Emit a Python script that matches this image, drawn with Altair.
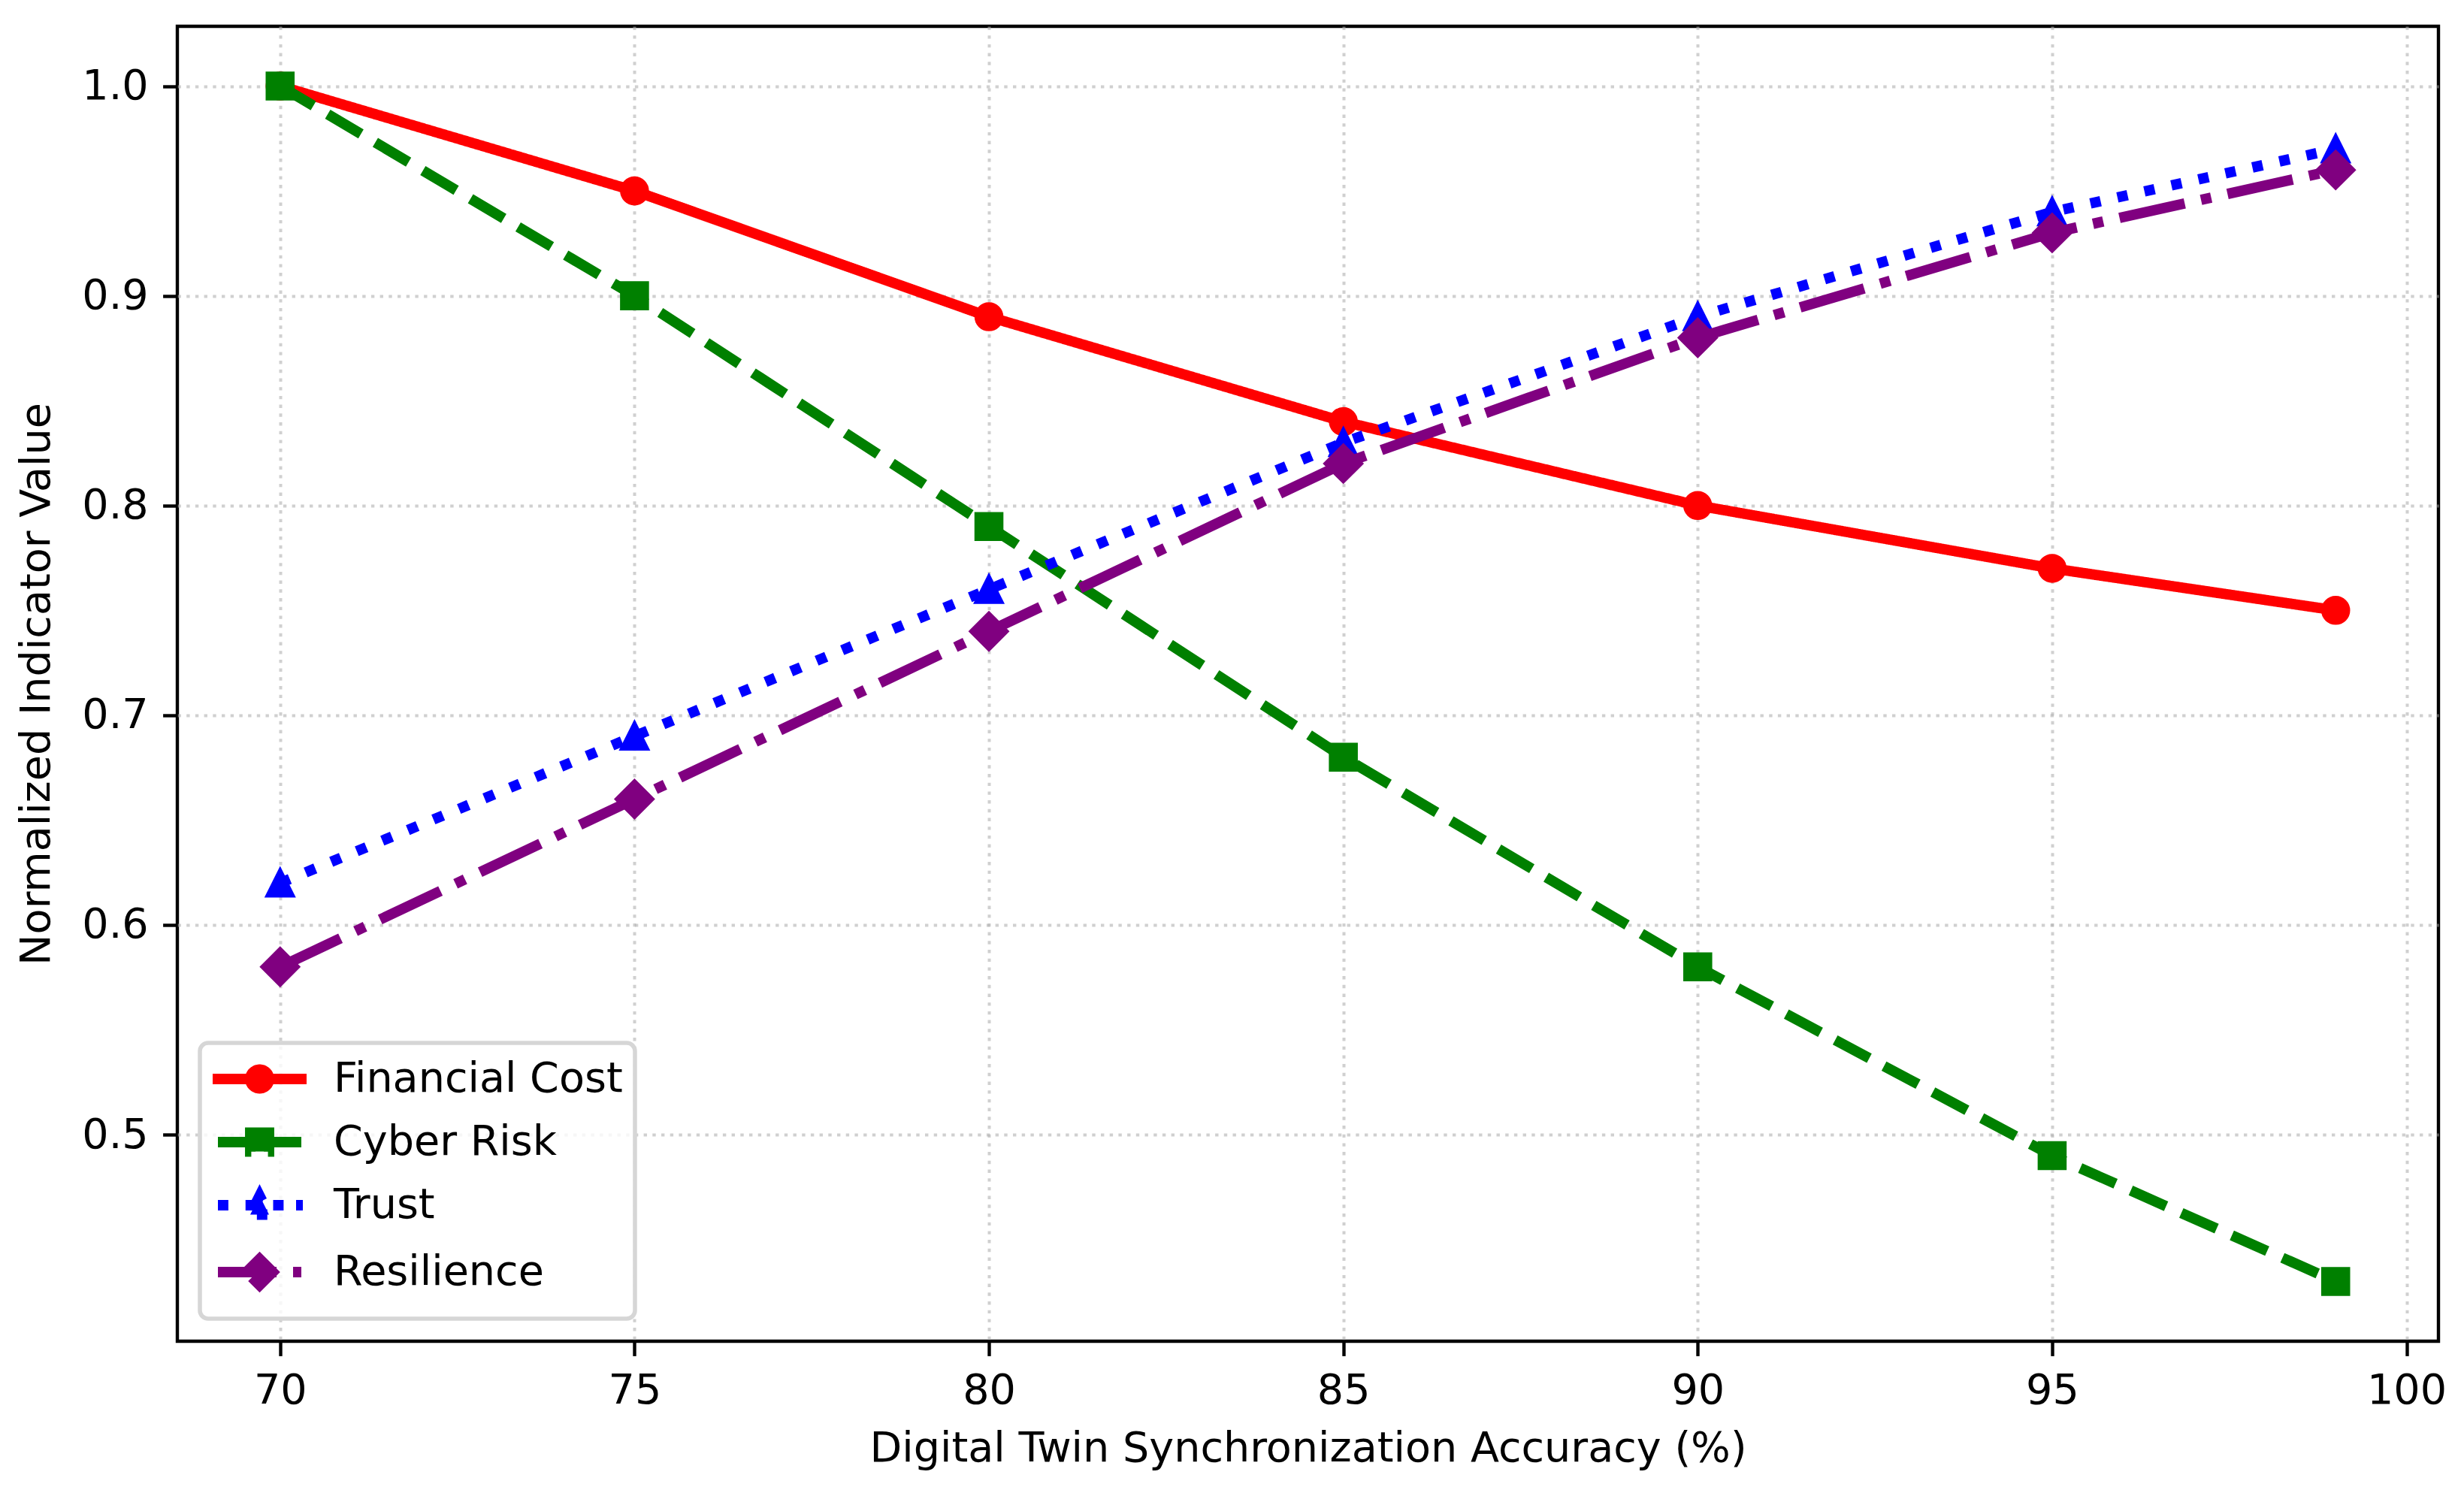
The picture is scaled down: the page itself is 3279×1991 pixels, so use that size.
import pandas as pd
import altair as alt

# synchronization accuracy levels (%)
accuracy = [70, 75, 80, 85, 90, 95, 99]

# normalized indicator values, one list per series
financial_cost = [1.00, 0.95, 0.89, 0.84, 0.80, 0.77, 0.75]
cyber_risk = [1.00, 0.90, 0.79, 0.68, 0.58, 0.49, 0.43]
trust = [0.62, 0.69, 0.76, 0.83, 0.89, 0.94, 0.97]
resilience = [0.58, 0.66, 0.74, 0.82, 0.88, 0.93, 0.96]

series_names = ["Financial Cost", "Cyber Risk", "Trust", "Resilience"]
series_values = [financial_cost, cyber_risk, trust, resilience]

# tick labels
x_ticks = [70, 75, 80, 85, 90, 95, 100]
y_ticks = [0.5, 0.6, 0.7, 0.8, 0.9, 1.0]

# styles (matplotlib look at 400 dpi: lw 2.5, markersize 6)
series_colors = ["red", "green", "blue", "purple"]
dash_patterns = [[1, 0], [51.4, 22.2], [13.9, 22.9], [88.9, 22.2, 13.9, 22.2]]
marker_shapes = ["circle", "square", "M0,-1L-1,1L1,1Z", "diamond"]
marker_sizes = [1089, 1089, 1089, 2209]

# legend handles: line (with its dashes) plus marker, drawn as one symbol path
legend_paths = [
    "M-2.5,0H2.5M-0.5,0A0.5,0.5 0 1,0 0.5,0A0.5,0.5 0 1,0 -0.5,0Z",
    "M-2.22,0H-0.16M0.72,0H2.22M-0.5,-0.5H0.5V0.5H-0.5Z",
    "M-2.22,0H-1.66M-0.75,0H-0.19M0.72,0H1.28M1.94,0H2.3M0,-0.5L-0.5,0.5L0.5,0.5Z",
    "M-2.22,0H0.9M1.78,0H2.22M-0.7,0L0,-0.7L0.7,0L0,0.7Z"]

# long-form table
rows = []
for name, values in zip(series_names, series_values):
    for acc, val in zip(accuracy, values):
        rows.append({"series": name, "accuracy": acc, "value": val})
df = pd.DataFrame(rows)

x_enc = alt.X(
    "accuracy:Q",
    scale=alt.Scale(domain=[68.55, 100.45], nice=False, zero=False),
    axis=alt.Axis(values=x_ticks, format="d",
                  title="Digital Twin Synchronization Accuracy (%)"))
y_enc = alt.Y(
    "value:Q",
    scale=alt.Scale(domain=[0.4015, 1.0285], nice=False, zero=False),
    axis=alt.Axis(values=y_ticks, format=".1f",
                  title="Normalized Indicator Value"))

stroke_scale = alt.Scale(domain=series_names, range=series_colors)

# legend-only layer (no marks drawn); first so its legend settings win the merge
legend_layer = alt.Chart(df).transform_filter("false").mark_point(
    filled=True, opacity=1).encode(
    x=x_enc,
    y=y_enc,
    fill=alt.Fill("series:N", scale=stroke_scale, legend=alt.Legend(title=None)),
    stroke=alt.Stroke("series:N", scale=stroke_scale, legend=alt.Legend(title=None)),
    shape=alt.Shape(
        "series:N",
        scale=alt.Scale(domain=series_names, range=legend_paths),
        legend=alt.Legend(title=None)))

# one line + marker layer per series, in plotting order
layers = [legend_layer]
for name, shape, size in zip(series_names, marker_shapes, marker_sizes):
    base = alt.Chart(df).transform_filter(alt.datum.series == name)
    line = base.mark_line(
        strokeWidth=13.9,
        strokeJoin="round").encode(
        x=x_enc,
        y=y_enc,
        stroke=alt.Stroke("series:N", scale=stroke_scale, legend=None),
        strokeDash=alt.StrokeDash(
            "series:N",
            scale=alt.Scale(domain=series_names, range=dash_patterns),
            legend=None))
    points = base.mark_point(
        shape=shape,
        size=size,
        filled=True,
        opacity=1,
        strokeWidth=5.56).encode(
        x=x_enc,
        y=y_enc,
        fill=alt.Fill("series:N", scale=stroke_scale, legend=None),
        stroke=alt.Stroke("series:N", scale=stroke_scale, legend=None))
    layers += [line, points]

chart = alt.layer(*layers).properties(
    width=3009,
    height=1750,
    padding={"left": 228, "top": 27, "right": 26, "bottom": 190},
    autosize=alt.AutoSizeParams(type="none"))

chart = chart.configure_axis(
    labelFont="DejaVu Sans",
    labelFontSize=55.6,
    labelColor="black",
    titleFont="DejaVu Sans",
    titleFontSize=55.6,
    titleFontWeight="normal",
    titleColor="black",
    tickColor="black",
    tickWidth=4.4,
    tickSize=19.4,
    labelPadding=19.4,
    domain=False,
    gridColor="#b0b0b0",
    gridOpacity=0.6,
    gridWidth=4,
    gridDash=[4.4, 7.3]).configure_axisX(
    titlePadding=21).configure_axisY(
    titlePadding=31).configure_legend(
    orient="bottom-left",
    offset=30,
    padding=16,
    cornerRadius=11,
    fillColor="rgba(255,255,255,0.8)",
    strokeColor="#d6d6d6",
    strokeWidth=5.56,
    labelFont="DejaVu Sans",
    labelFontSize=55.6,
    labelColor="black",
    labelLimit=1000,
    symbolSize=2500,
    symbolStrokeWidth=13.9,
    symbolOffset=31.5,
    symbolOpacity=1,
    labelOffset=66.5,
    rowPadding=2).configure_view(
    stroke="black",
    strokeWidth=4.4)

chart.save("out.html", embed_options={"renderer": "svg", "actions": False})
